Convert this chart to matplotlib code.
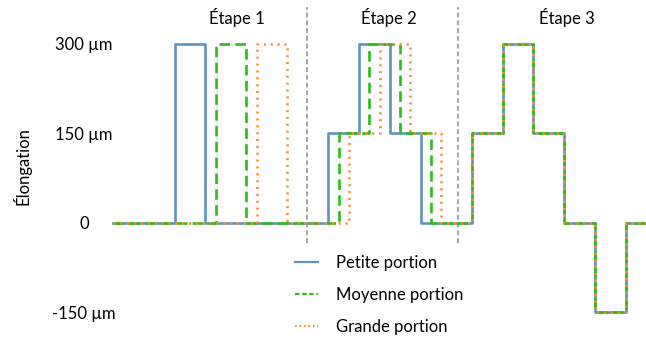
import matplotlib.pyplot as plt

plt.rcParams['font.family'] = ['Lato', 'DejaVu Sans']
plt.rcParams['font.size'] = 12

# time steps (1 unit = a third of a pulse) and elongation in µm
t_petite = [0, 6, 9, 21, 24, 27, 30, 35, 38, 41, 44, 47, 50, 52]
t_moyenne = [0, 10, 13, 22, 25, 28, 31, 35, 38, 41, 44, 47, 50, 52]
t_grande = [0, 14, 17, 23, 26, 29, 32, 35, 38, 41, 44, 47, 50, 52]
elong = [0, 300, 0, 150, 300, 150, 0, 150, 300, 150, 0, -150, 0, 0]

series = [
    ('Petite portion', t_petite, '#5f93bf', '-'),
    ('Moyenne portion', t_moyenne, '#2cbd16', (0, (4.0, 2.0))),
    ('Grande portion', t_grande, '#f7923a', (0, (0.8, 1.8))),
]
# shorter dash patterns in the legend keys
legend_styles = ['-', (0, (2.0, 1.2)), (0, (0.8, 1.2))]

stage_bounds = [18.9, 33.7]
stage_names = ['Étape 1', 'Étape 2', 'Étape 3']
stage_label_x = [12.1, 26.9, 44.3]

yticks = [300, 150, 0, -150]
ytick_labels = ['300 µm', '150 µm', '0', '-150 µm']

fig = plt.figure(figsize=(6.46, 3.38), dpi=100)
ax = fig.add_axes([113 / 646, 0, 533 / 646, 1])

for name, t, color, ls in series:
    ax.step(t, elong, where='post', color=color, linestyle=ls, lw=1.9,
            label=name, clip_on=False)

for b in stage_bounds:
    ax.axvline(b, ymin=0.281, ymax=0.979, color='#a6a6a6', lw=1.4,
               linestyle=(0, (2.5, 1.5)), zorder=0)

for x, s in zip(stage_label_x, stage_names):
    ax.text(x, 345, s, ha='center', va='center')

ax.set_xlim(0, 52)
ax.set_ylim(-193.6, 373.8)
ax.set_xticks([])
ax.set_yticks(yticks, ytick_labels)
ax.tick_params(axis='y', length=0, pad=21)
for lab in ax.get_yticklabels():
    lab.set_horizontalalignment('center')
for sp in ax.spines.values():
    sp.set_visible(False)

fig.text(22 / 646, 1 - 166 / 338, 'Élongation', rotation=90,
         ha='center', va='center')

leg = ax.legend(loc='center left', bbox_to_anchor=(295 / 646, 1 - 295 / 338),
                bbox_transform=fig.transFigure, frameon=False, borderpad=0,
                borderaxespad=0, handlelength=1.35, handletextpad=1.1,
                labelspacing=0.95)
for h, ls in zip(leg.get_lines(), legend_styles):
    h.set_linewidth(1.6)
    h.set_linestyle(ls)

fig.savefig('out.png', dpi=100)
